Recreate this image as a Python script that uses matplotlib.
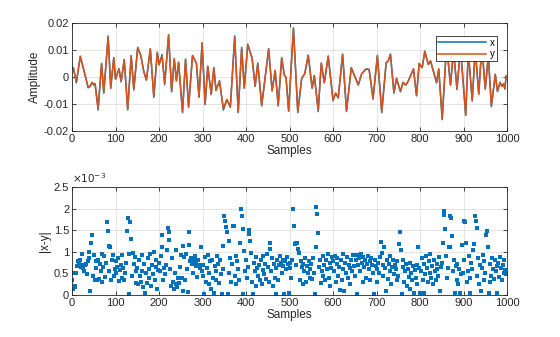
import matplotlib
matplotlib.use('Agg')
import matplotlib.pyplot as plt
import numpy as np

plt.rcParams['font.family'] = ['Liberation Sans', 'DejaVu Sans']
plt.rcParams['font.size'] = 8

# top panel: signal x (blue) and y (orange), read at the turning points
sig_samples = [0, 3, 10, 19, 28, 37, 42, 46, 50, 53, 60, 68, 73, 83, 89, 96, 100, 108, 113, 120,
               128, 136, 142, 151, 158, 165, 171, 180, 188, 196, 200, 207, 213, 222, 229, 235, 240, 245, 254, 261,
               268, 277, 286, 292, 299, 306, 312, 320, 326, 331, 339, 348, 356, 364, 374, 382, 390, 396, 404, 414,
               421, 427, 436, 444, 452, 460, 467, 474, 482, 488, 492, 498, 509, 519, 528, 535, 543, 552, 557, 566,
               573, 580, 589, 600, 606, 612, 622, 631, 642, 658, 666, 676, 683, 692, 702, 712, 722, 727, 732, 740,
               746, 755, 761, 767, 773, 785, 792, 798, 805, 811, 819, 824, 838, 843, 851, 861, 870, 877, 885, 893,
               905, 911, 920, 927, 935, 942, 950, 957, 964, 973, 978, 984, 988, 992, 995, 998, 1000]
x_sig = [0.0028, 0.0035, -0.0022, 0.0077, 0.002, -0.004, -0.0035, -0.002, -0.003, -0.0025, -0.0122, 0.005, -0.006, 0.0152, -0.0042, 0.0072, -0.0008, 0.0031, -0.0018, 0.0065,
         -0.0122, 0.0079, -0.0048, 0.011, 0.008, 0.002, -0.0012, 0.0105, -0.0075, 0.0092, 0.0045, 0.0083, -0.0028, 0.0157, -0.0055, 0.0068, -0.0015, 0.0055, -0.0132, 0.0066,
         -0.0112, 0.008, 0.005, -0.0075, 0.0127, -0.0102, 0.004, -0.0065, 0.0035, -0.005, -0.0015, -0.0122, -0.0085, -0.0112, 0.0152, -0.0132, 0.011, -0.0042, 0.0122, 0.007,
         -0.0035, 0.0052, -0.0107, 0.0, 0.0105, -0.0052, 0.0025, -0.0107, 0.0072, 0.0008, -0.0002, -0.0127, 0.0182, -0.0132, -0.0005, 0.0012, 0.0081, -0.0042, 0.0005, -0.0128,
         0.0052, -0.0022, 0.0078, -0.0088, -0.006, -0.0078, 0.0085, -0.0128, 0.0035, -0.003, 0.0012, 0.003, 0.0028, -0.0082, 0.008, -0.0132, 0.0052, 0.006, 0.0085, -0.006,
         -0.0005, -0.0055, -0.002, -0.003, -0.0015, 0.003, -0.007, 0.005, 0.0035, 0.0096, 0.0047, 0.006, -0.0022, 0.003, -0.0158, 0.012, -0.003, 0.01, -0.0046, 0.011,
         -0.0142, 0.0096, -0.0089, 0.0105, -0.0064, 0.0115, -0.0045, 0.008, -0.011, 0.001, -0.0054, -0.002, -0.0035, -0.0025, -0.0045, 0.0004, -0.0005]
y_sig = [0.0026, 0.0033, -0.0018, 0.0075, 0.002, -0.0038, -0.0033, -0.002, -0.0028, -0.0025, -0.0117, 0.005, -0.0058, 0.0148, -0.004, 0.0071, -0.0008, 0.003, -0.0016, 0.0064,
         -0.012, 0.0078, -0.0046, 0.0108, 0.008, 0.002, -0.001, 0.0104, -0.0073, 0.009, 0.0046, 0.0077, -0.0024, 0.0155, -0.0053, 0.0067, -0.0014, 0.0054, -0.013, 0.0065,
         -0.011, 0.0079, 0.005, -0.0074, 0.0125, -0.01, 0.004, -0.0063, 0.0034, -0.0049, -0.0014, -0.0117, -0.0083, -0.011, 0.0147, -0.013, 0.0108, -0.004, 0.012, 0.0068,
         -0.0033, 0.005, -0.0105, 0.0, 0.0102, -0.005, 0.0024, -0.0105, 0.007, 0.0008, -0.0002, -0.0125, 0.018, -0.013, -0.0005, 0.0012, 0.008, -0.004, 0.0005, -0.0121,
         0.005, -0.002, 0.0077, -0.0086, -0.006, -0.0076, 0.0084, -0.0124, 0.0034, -0.0029, 0.0012, 0.0029, 0.0027, -0.008, 0.0079, -0.013, 0.005, 0.006, 0.0084, -0.0058,
         -0.0005, -0.0052, -0.002, -0.003, -0.0015, 0.003, -0.0068, 0.005, 0.0035, 0.0094, 0.0046, 0.006, -0.002, 0.003, -0.0152, 0.0118, -0.003, 0.0098, -0.0045, 0.0108,
         -0.014, 0.0094, -0.0087, 0.0103, -0.0063, 0.0113, -0.0044, 0.0079, -0.0108, 0.001, -0.0053, -0.002, -0.0034, -0.0025, -0.0044, 0.0004, -0.0005]

# bottom panel: |x-y| in units of 1e-3, every second sample
diff_samples = np.arange(0, 1000, 2)
diff_e3 = [
    0.35, 0.15, 0.5, 0.22, 0.18, 0.5, 0.68, 0.78, 0.72, 0.8, 0.65, 0.95, 0.7, 0.62, 0.55, 0.7, 0.72, 0.48, 0.78, 1.0, 0.85, 0.1, 1.2, 1.4, 0.45,
    0.92, 0.35, 0.78, 0.62, 0.35, 0.8, 0.38, 0.72, 0.55, 0.95, 0.3, 0.65, 0.9, 0.42, 0.75, 1.7, 1.48, 1.13, 0.55, 1.1, 0.35, 0.82, 0.92, 0.45, 0.6,
    0.78, 0.5, 0.65, 0.85, 0.32, 0.58, 0.7, 0.92, 0.4, 0.62, 0.35, 0.52, 0.75, 1.48, 1.78, 0.95, 0.02, 1.7, 1.3, 0.45, 0.98, 0.72, 0.88, 0.28, 0.55,
    0.62, 0.25, 0.8, 0.45, 0.3, 0.92, 0.55, 0.18, 0.72, 0.05, 0.5, 0.28, 0.85, 0.4, 0.6, 0.95, 0.22, 0.7, 0.48, 1.0, 0.35, 0.65, 0.82, 0.15, 0.58,
    0.75, 0.55, 0.9, 1.4, 1.12, 0.35, 0.62, 0.48, 0.7, 1.05, 1.55, 1.27, 1.47, 0.6, 0.2, 0.85, 0.3, 0.15, 0.52, 0.25, 1.05, 0.18, 0.4, 0.28, 0.65,
    0.92, 0.4, 0.1, 1.14, 0.88, 0.35, 0.95, 0.6, 0.08, 1.47, 1.16, 0.78, 0.85, 0.72, 0.5, 0.8, 0.9, 0.68, 0.75, 0.42, 0.82, 0.7, 0.62, 1.1, 0.55,
    0.7, 0.45, 0.02, 0.88, 0.3, 0.62, 0.92, 0.25, 0.5, 0.78, 0.15, 0.82, 0.4, 0.05, 0.68, 0.55, 0.35, 0.9, 0.72, 0.28, 0.8, 0.48, 0.02, 0.6, 1.14,
    1.83, 1.72, 1.58, 1.45, 0.02, 1.25, 0.5, 0.85, 0.3, 0.72, 1.6, 1.59, 0.45, 0.9, 0.25, 0.78, 0.6, 0.35, 1.2, 2.0, 1.82, 0.02, 1.53, 1.03, 0.55,
    0.8, 0.4, 0.65, 1.5, 1.42, 1.25, 0.97, 0.3, 0.02, 0.75, 0.55, 0.88, 0.2, 0.62, 0.45, 0.7, 0.35, 0.82, 0.25, 0.58, 0.9, 0.48, 0.72, 0.38, 0.95,
    0.65, 0.3, 1.2, 1.07, 0.55, 0.85, 0.2, 0.72, 0.4, 0.62, 0.02, 0.8, 0.35, 0.7, 0.9, 0.75, 0.5, 0.82, 0.68, 0.02, 0.78, 0.6, 0.88, 0.72, 0.05,
    0.75, 0.62, 0.4, 0.82, 2.0, 1.6, 1.18, 1.2, 0.7, 1.2, 1.07, 0.98, 0.35, 0.78, 0.65, 0.25, 0.72, 0.55, 0.85, 0.3, 0.68, 0.5, 0.78, 0.6, 0.4,
    0.72, 0.38, 0.85, 0.5, 0.02, 1.1, 2.04, 1.88, 1.44, 0.65, 0.8, 0.28, 0.55, 0.9, 0.45, 0.7, 0.35, 0.82, 0.6, 0.95, 0.4, 0.75, 0.2, 0.62, 0.88,
    0.78, 0.55, 0.9, 0.3, 0.72, 0.85, 0.45, 0.65, 0.12, 0.8, 0.35, 0.95, 0.6, 0.1, 0.75, 0.5, 0.88, 0.4, 0.7, 0.62, 0.25, 0.82, 0.55, 0.92, 0.68,
    0.45, 0.8, 0.02, 0.92, 0.7, 0.85, 0.55, 0.95, 0.75, 0.3, 0.88, 0.65, 0.8, 0.4, 0.72, 0.9, 0.6, 0.78, 0.35, 0.85, 0.7, 0.5, 0.02, 0.82, 0.68,
    0.6, 0.3, 0.75, 0.5, 0.88, 1.22, 0.98, 0.45, 0.7, 1.1, 0.62, 0.1, 0.8, 0.38, 0.72, 0.55, 0.9, 0.25, 0.65, 0.82, 0.48, 0.7, 0.6, 0.35, 0.78,
    0.45, 1.18, 1.47, 1.05, 0.02, 0.65, 0.8, 0.3, 0.55, 0.72, 0.2, 0.6, 0.42, 0.75, 0.15, 0.5, 0.35, 0.68, 0.05, 0.58, 0.4, 0.7, 0.25, 1.1, 0.62,
    0.05, 0.55, 0.85, 0.35, 0.05, 0.72, 0.48, 0.9, 0.62, 0.3, 0.78, 0.5, 0.95, 0.4, 0.68, 0.25, 0.82, 0.55, 0.35, 0.72, 0.6, 0.45, 0.88, 0.1, 0.65,
    0.75, 1.2, 1.95, 1.85, 1.53, 0.9, 0.4, 0.62, 1.1, 1.83, 1.1, 1.78, 1.37, 0.55, 0.8, 0.05, 0.68, 0.35, 0.72, 0.25, 0.6, 0.05, 0.48, 1.15, 0.5,
    0.82, 1.72, 1.68, 1.2, 0.3, 0.55, 0.9, 0.4, 0.05, 0.75, 0.6, 1.05, 1.19, 1.82, 1.72, 1.55, 0.45, 0.85, 0.25, 0.7, 0.1, 0.62, 0.92, 0.35, 0.78,
    0.5, 1.4, 1.48, 1.1, 0.05, 0.3, 0.72, 0.45, 0.85, 0.6, 0.38, 0.8, 0.55, 0.68, 0.05, 0.75, 0.42, 0.88, 0.62, 0.35, 0.7, 0.5, 0.8, 0.58, 0.48,
]

x_ticks = list(range(0, 1001, 100))
amp_ticks = [-0.02, -0.01, 0, 0.01, 0.02]
amp_labels = ['-0.02', '-0.01', '0', '0.01', '0.02']
diff_ticks = [0, 0.5, 1, 1.5, 2, 2.5]
diff_labels = ['0', '0.5', '1', '1.5', '2', '2.5']

blue = '#0072BD'
orange = '#D95319'

fig = plt.figure(figsize=(5.6, 3.37), dpi=100)
ax1 = fig.add_axes([0.1286, 0.6113, 0.7768, 0.3205])
ax2 = fig.add_axes([0.1286, 0.1246, 0.7768, 0.3205])


def matlab_style(ax):
    ax.grid(True, color='#e0e0e0', linewidth=0.6)
    ax.set_axisbelow(True)
    ax.tick_params(direction='in', length=3, width=0.6, top=True, right=True,
                   labelsize=8, pad=2, colors='#262626')
    for s in ax.spines.values():
        s.set_linewidth(0.6)
        s.set_color('#262626')
    ax.set_xlim(0, 1000)
    ax.set_xticks(x_ticks)
    ax.set_xlabel('Samples', fontsize=8.5, labelpad=1, color='#262626')


ax1.plot(sig_samples, x_sig, color=blue, linewidth=1.1, label='x')
ax1.plot(sig_samples, y_sig, color=orange, linewidth=1.1, label='y')
matlab_style(ax1)
ax1.set_ylim(-0.02, 0.02)
ax1.set_yticks(amp_ticks)
ax1.set_yticklabels(amp_labels)
ax1.set_ylabel('Amplitude', fontsize=8.5, labelpad=2, color='#262626')
leg = ax1.legend(loc='upper right', bbox_to_anchor=(0.977, 0.88), fontsize=7,
                 handlelength=5, handletextpad=0.4, borderpad=0.2, borderaxespad=0,
                 labelspacing=0.15, fancybox=False, framealpha=1)
leg.get_frame().set_edgecolor('#262626')
leg.get_frame().set_linewidth(0.6)

ax2.plot(diff_samples, diff_e3, 's', color=blue, markersize=2.4, markeredgewidth=0)
matlab_style(ax2)
ax2.set_ylim(0, 2.5)
ax2.set_yticks(diff_ticks)
ax2.set_yticklabels(diff_labels)
ax2.set_ylabel('|x-y|', fontsize=8.5, labelpad=2, color='#262626')
ax2.text(0.0, 1.015, r'$\times10^{-3}$', transform=ax2.transAxes, fontsize=7.5,
         ha='left', va='bottom', color='#262626')

fig.savefig('out.png', dpi=100)
